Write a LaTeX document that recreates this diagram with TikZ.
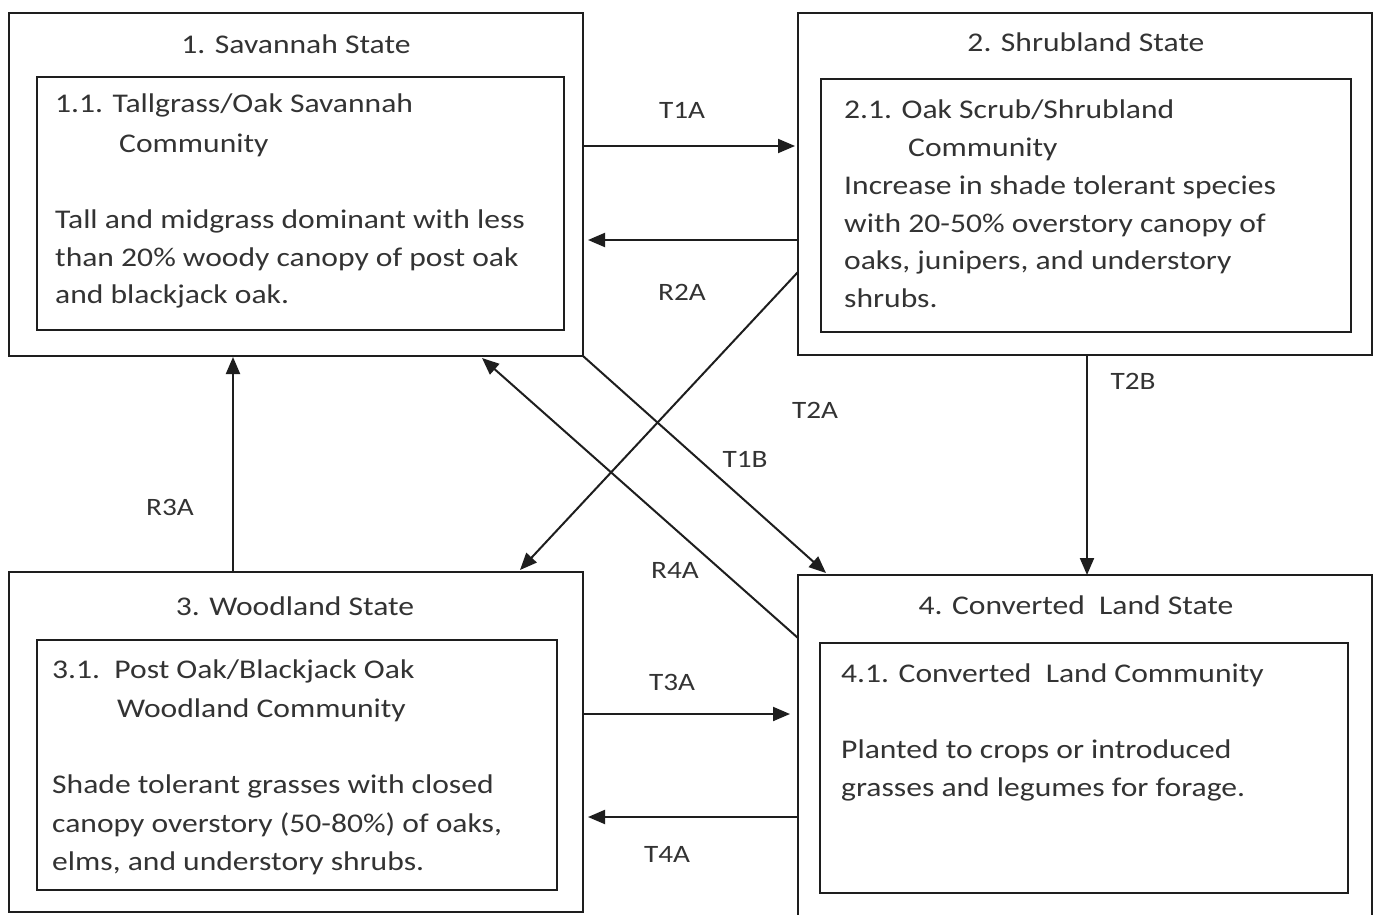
\documentclass[tikz,border=0pt]{standalone}
\usepackage{fontspec}
\setmainfont{Carlito}[FakeStretch=1.17]
\usetikzlibrary{arrows.meta,calc}
\definecolor{ink}{HTML}{1E1E1E}
\definecolor{txtc}{HTML}{333333}
\newcommand\bodyfont{\fontsize{27}{38}\selectfont}
\newcommand\labfont{\fontsize{25}{30}\selectfont}
\tikzset{
  box/.style={draw=ink, line width=2pt, inner sep=0pt, outer sep=0pt},
  ln/.style={anchor=base west, inner sep=0pt, font=\bodyfont, text=txtc},
  ttl/.style={anchor=base, inner sep=0pt, font=\bodyfont, text=txtc},
  lab/.style={anchor=base, inner sep=0pt, font=\labfont, text=txtc},
  arr/.style={draw=ink, line width=2pt, -{Triangle[length=17pt,width=14pt]}}
}
\begin{document}
\begin{tikzpicture}[x=1pt,y=-1pt]
\useasboundingbox (0,0) rectangle (1378,915);
\clip (0,0) rectangle (1378,915);
\fill[white] (0,0) rectangle (1378,915);
% outer state boxes
\node[box, minimum width=574, minimum height=343] (s1) at (296,184.5) {};
\node[box, minimum width=574, minimum height=342] (s2) at (1085,184) {};
\node[box, minimum width=574, minimum height=340] (s3) at (296,742) {};
\node[box, minimum width=574, minimum height=360] (s4) at (1085,755) {};
% inner community boxes
\node[box, minimum width=527, minimum height=253] (i1) at (300.5,203.5) {};
\node[box, minimum width=530, minimum height=253] (i2) at (1086,205.5) {};
\node[box, minimum width=520, minimum height=250] (i3) at (297,765) {};
\node[box, minimum width=528, minimum height=250] (i4) at (1084,768) {};
% titles
\node[ttl] (t1) at (296,54) {1. Savannah State};
\node[ttl] (t2) at (1086,52) {2. Shrubland State};
\node[ttl] (t3) at (295,615) {3. Woodland State};
\node[ttl] (t4) at (1076,614) {4. Converted\ \ Land State};
% box 1 text
\node[ln] (a1) at (55,113) {1.1. Tallgrass/Oak Savannah};
\node[ln] (a2) at (119,152) {Community};
\node[ln] (a3) at (55,228) {Tall and midgrass dominant with less};
\node[ln] (a4) at (55,266) {than 20\% woody canopy of post oak};
\node[ln] (a5) at (55,303) {and blackjack oak.};
% box 2 text
\node[ln] (b1) at (844,118) {2.1. Oak Scrub/Shrubland};
\node[ln] (b2) at (908,156) {Community};
\node[ln] (b3) at (844,194) {Increase in shade tolerant species};
\node[ln] (b4) at (844,232) {with 20-50\% overstory canopy of};
\node[ln] (b5) at (844,269) {oaks, junipers, and understory};
\node[ln] (b6) at (844,307) {shrubs.};
% box 3 text
\node[ln] (c1) at (52,678) {3.1.\ \ Post Oak/Blackjack Oak};
\node[ln] (c2) at (117,717) {Woodland Community};
\node[ln] (c3) at (52,793) {Shade tolerant grasses with closed};
\node[ln] (c4) at (52,832) {canopy overstory (50-80\%) of oaks,};
\node[ln] (c5) at (52,870) {elms, and understory shrubs.};
% box 4 text
\node[ln] (d1) at (841,682) {4.1. Converted\ \ Land Community};
\node[ln] (d2) at (841,758) {Planted to crops or introduced};
\node[ln] (d3) at (841,796) {grasses and legumes for forage.};
% connectors
\draw[arr] ($(s1.north east)+(0,133)$) -- ($(s2.north west)+(-3,133)$);
\draw[arr] ($(s2.north west)+(0,227)$) -- ($(s1.north east)+(5,227)$);
\draw[arr] ($(s2.north west)+(0,259)$) -- ($(s3.north west)+(511,-2)$);
\draw[arr] (s1.south east) -- ($(s4.north west)+(28,-2)$);
\draw[arr] ($(s4.north west)+(0,63)$) -- ($(s1.south west)+(473,2)$);
\draw[arr] ($(s2.south west)+(289,0)$) -- ($(s4.north west)+(289,0)$);
\draw[arr] ($(s3.north west)+(224,0)$) -- ($(s1.south west)+(224,1)$);
\draw[arr] ($(s3.north east)+(0,142)$) -- ($(s4.north west)+(-8,139)$);
\draw[arr] ($(s4.north west)+(0,242)$) -- ($(s3.north east)+(5,245)$);
% labels
\node[lab] (l1) at (682,118) {T1A};
\node[lab] (l2) at (682,300) {R2A};
\node[lab] (l3) at (815,418) {T2A};
\node[lab] (l4) at (745,467) {T1B};
\node[lab] (l5) at (675,578) {R4A};
\node[lab] (l6) at (1133,389) {T2B};
\node[lab] (l7) at (170,515) {R3A};
\node[lab] (l8) at (672,690) {T3A};
\node[lab] (l9) at (667,862) {T4A};
\end{tikzpicture}
\end{document}
